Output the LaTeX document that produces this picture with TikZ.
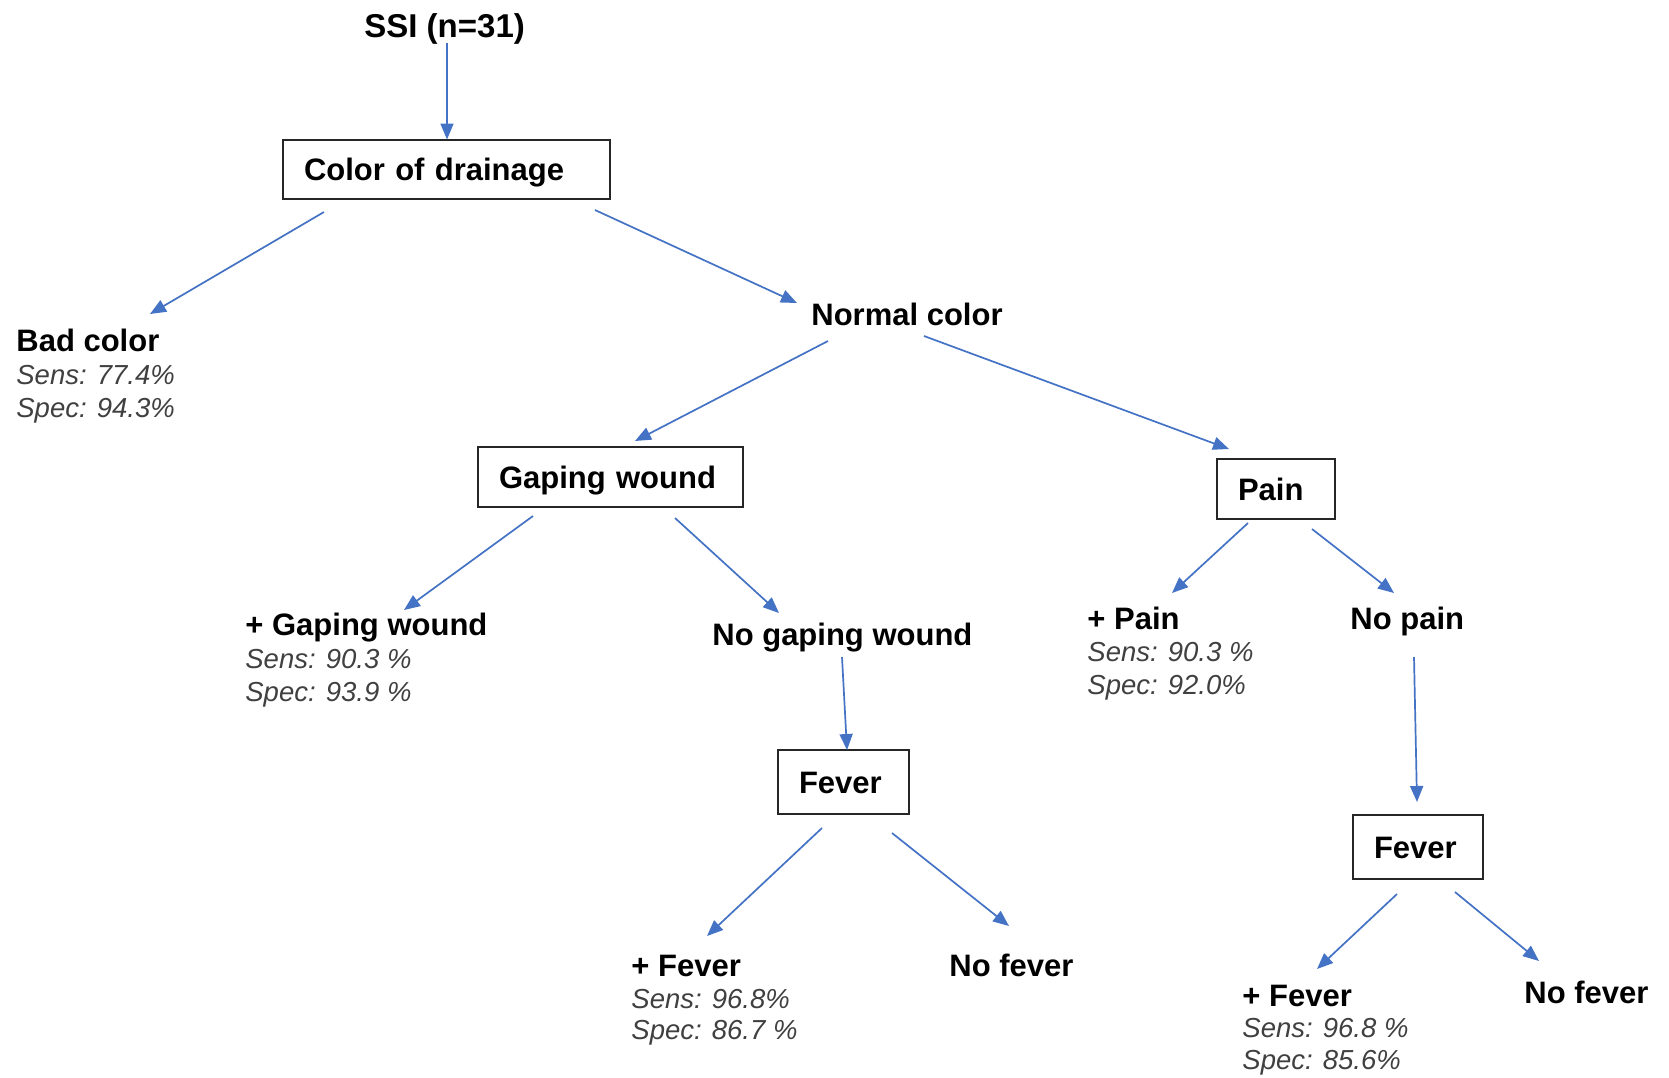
\documentclass[tikz,border=0pt]{standalone}
\usepackage{fontspec}
\setmainfont{Liberation Sans}
\usetikzlibrary{arrows.meta}
\definecolor{arrblue}{HTML}{4472C4}
\definecolor{itgray}{HTML}{404040}
\begin{document}
\begin{tikzpicture}[x=0.5pt,y=-0.5pt,
  lbl/.style={anchor=base west, inner sep=0pt, font=\fontsize{15.5}{18}\selectfont\bfseries},
  stat/.style={anchor=base west, inner sep=0pt, text=itgray, font=\fontsize{13.75}{16}\selectfont\itshape},
  box/.style={draw=black!85, line width=1pt, inner xsep=10.5pt, inner ysep=0pt, text height=11.1pt, text depth=0pt, align=left, font=\fontsize{15.5}{18}\selectfont\bfseries},
  arr/.style={draw=arrblue, line width=0.85pt, -{Triangle[length=8pt,width=6.5pt]}}]
\useasboundingbox (0,0) rectangle (1669,1077);
\fill[white] (0,0) rectangle (1669,1077);

% boxes
\node[box, text width=142.5pt, minimum height=29.75pt] (cd) at (446.5,169.25) {Color of drainage};
\node[box, text width=111.5pt, minimum height=30pt] (gw) at (610.5,477) {Gaping wound};
\node[box, text width=38pt, minimum height=30pt] (pain) at (1276,489) {Pain};
\node[box, text width=44.5pt, minimum height=32pt] (fev1) at (843.5,782) {Fever};
\node[box, text width=44pt, minimum height=32pt] (fev2) at (1418,847) {Fever};

% labels
\node[lbl, font=\fontsize{16.5}{19}\selectfont\bfseries] (ssi) at (364,37) {SSI (n=31)};
\node[lbl] (bad) at (16,351) {Bad color};
\node[stat] (badsens) at (16,384) {Sens: 77.4\%};
\node[stat] (badspec) at (16,417) {Spec: 94.3\%};
\node[lbl] (normal) at (811,325) {Normal color};
\node[lbl] (pgw) at (245,635) {+ Gaping wound};
\node[stat] (pgwsens) at (245,668) {Sens: 90.3 \%};
\node[stat] (pgwspec) at (245,701) {Spec: 93.9 \%};
\node[lbl] (nogw) at (712,645) {No gaping wound};
\node[lbl] (pf1) at (631,976) {+ Fever};
\node[stat] (pf1sens) at (631,1008) {Sens: 96.8\%};
\node[stat] (pf1spec) at (631,1039) {Spec: 86.7 \%};
\node[lbl] (nf1) at (949,976) {No fever};
\node[lbl] (ppain) at (1087,629) {+ Pain};
\node[stat] (ppainsens) at (1087,661) {Sens: 90.3 \%};
\node[stat] (ppainspec) at (1087,694) {Spec: 92.0\%};
\node[lbl] (nopain) at (1350,629) {No pain};
\node[lbl] (pf2) at (1242,1006) {+ Fever};
\node[stat] (pf2sens) at (1242,1037) {Sens: 96.8 \%};
\node[stat] (pf2spec) at (1242,1069) {Spec: 85.6\%};
\node[lbl] (nf2) at (1524,1003) {No fever};

% connector ends
\coordinate (a1s) at (447,43);   \coordinate (a1e) at (447,139.5);
\coordinate (a2s) at (324,212);  \coordinate (a2e) at (150,314);
\coordinate (a3s) at (595,210);  \coordinate (a3e) at (797,303);
\coordinate (a4s) at (828,341);  \coordinate (a4e) at (635,441);
\coordinate (a5s) at (924,336);  \coordinate (a5e) at (1229,449);
\coordinate (a6s) at (533,516);  \coordinate (a6e) at (404,610);
\coordinate (a7s) at (675,518);  \coordinate (a7e) at (779,613);
\coordinate (a8s) at (842,657);  \coordinate (a8e) at (847,750);
\coordinate (a9s) at (822,828);  \coordinate (a9e) at (707,936);
\coordinate (a10s) at (892,833); \coordinate (a10e) at (1009,926);
\coordinate (a11s) at (1248,523);\coordinate (a11e) at (1172,593);
\coordinate (a12s) at (1312,529);\coordinate (a12e) at (1394,593);
\coordinate (a13s) at (1414,657);\coordinate (a13e) at (1417,802);
\coordinate (a14s) at (1397,894);\coordinate (a14e) at (1317,969);
\coordinate (a15s) at (1455,892);\coordinate (a15e) at (1539,961);

\draw[arr] (a1s) -- (a1e);
\draw[arr] (a2s) -- (a2e);
\draw[arr] (a3s) -- (a3e);
\draw[arr] (a4s) -- (a4e);
\draw[arr] (a5s) -- (a5e);
\draw[arr] (a6s) -- (a6e);
\draw[arr] (a7s) -- (a7e);
\draw[arr] (a8s) -- (a8e);
\draw[arr] (a9s) -- (a9e);
\draw[arr] (a10s) -- (a10e);
\draw[arr] (a11s) -- (a11e);
\draw[arr] (a12s) -- (a12e);
\draw[arr] (a13s) -- (a13e);
\draw[arr] (a14s) -- (a14e);
\draw[arr] (a15s) -- (a15e);
\end{tikzpicture}
\end{document}
